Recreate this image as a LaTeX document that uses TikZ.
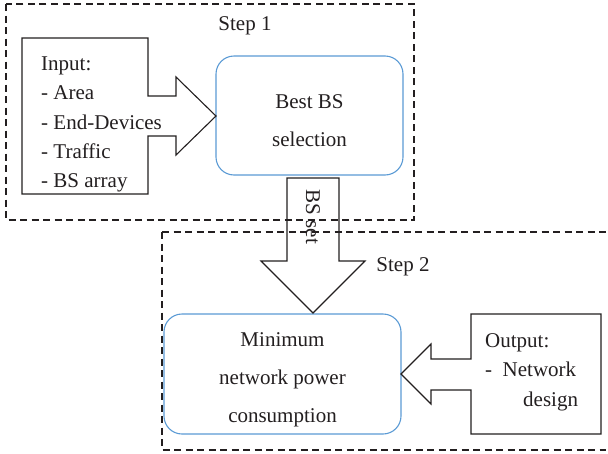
\documentclass[tikz,border=0pt]{standalone}
\usepackage{fontspec}
\setmainfont{Liberation Serif}
\definecolor{boxblue}{RGB}{91,155,213}
\definecolor{ink}{RGB}{35,31,32}
\begin{document}
\begin{tikzpicture}[x=1pt,y=-1pt,
  stepframe/.style={draw=ink,line width=1.1pt,dash pattern=on 7pt off 4.5pt},
  blockarrow/.style={draw=ink,line width=1.1pt,line join=miter},
  procbox/.style={draw=boxblue,line width=1.1pt,rounded corners=18pt},
  txt/.style={text=ink,inner sep=0pt,font=\fontsize{21}{29.3}\selectfont}]
\useasboundingbox (0,0) rectangle (608,453);
\fill[white] (0,0) rectangle (608,453);
% process boxes
\draw[procbox] (216,56) rectangle (403,175);
\node[txt,align=center,font=\fontsize{21}{38}\selectfont] (best) at (309.5,121) {Best BS\\selection};
\draw[procbox] (164,314) rectangle (401,434);
\node[txt,align=center,font=\fontsize{21}{38}\selectfont] (minp) at (282.5,380) {Minimum\\network power\\consumption};
% input block arrow
\draw[blockarrow] (22,38) -- (148,38) -- (148,96) -- (176,96) -- (176,77) -- (216,116)
  -- (176,155) -- (176,136) -- (148,136) -- (148,194) -- (22,194) -- cycle;
\node[txt,align=left,anchor=west] (inp) at (41,124.5) {Input:\\- Area\\- End-Devices\\- Traffic\\- BS array};
% BS set arrow
\draw[blockarrow] (287,178) -- (339,178) -- (339,261) -- (365,261) -- (313,313)
  -- (261,261) -- (287,261) -- cycle;
\node[txt,rotate=-90] (bsset) at (313,217) {BS set};
% output block arrow
\draw[blockarrow] (601,314) -- (471,314) -- (471,359) -- (431,359) -- (431,344) -- (401,374)
  -- (431,404) -- (431,390) -- (471,390) -- (471,434) -- (601,434) -- cycle;
\node[txt,align=left,anchor=west,font=\fontsize{21}{29.5}\selectfont] (outp) at (485,372) {Output:\\-\hspace{0.5em}Network\\\hspace*{38pt}design};
% step frames
\draw[stepframe] (6,4) rectangle (414,220);
\draw[stepframe] (162,232) -- (606,232) (162,232) -- (162,450) -- (606,450);
\node[txt] (s1) at (245,26) {Step 1};
\node[txt] (s2) at (403,267) {Step 2};
\end{tikzpicture}
\end{document}
